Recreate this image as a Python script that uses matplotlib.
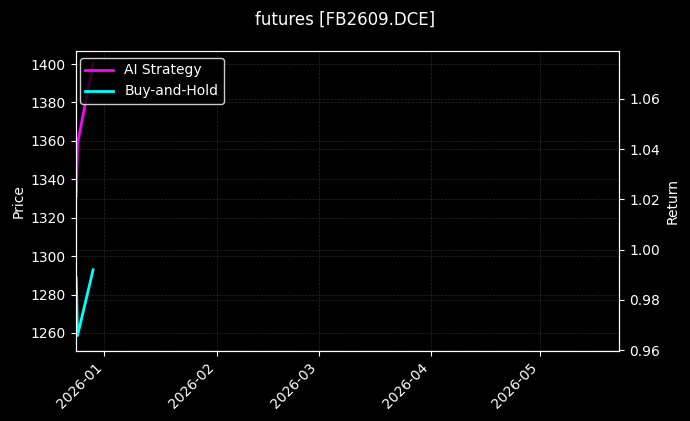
import matplotlib
matplotlib.use("Agg")
import matplotlib.pyplot as plt
import matplotlib.dates as mdates
import pandas as pd

title = "futures [FB2609.DCE]"
dates = pd.to_datetime(["2025-12-24 06:00", "2025-12-24 14:00", "2025-12-28 21:00"])
ai_strategy = [1.0213, 1.0423, 1.0740]
buy_hold = [0.9888, 0.9658, 0.9920]
x_limits = pd.to_datetime(["2025-12-24 02:00", "2026-05-22 20:00"])
price_limits = [1250.6, 1406.8]
price_ticks = [1260, 1280, 1300, 1320, 1340, 1360, 1380, 1400]
return_limits = [0.9597, 1.0791]

plt.style.use("dark_background")
fig = plt.figure(figsize=(6.9, 4.21), dpi=100, facecolor="black")
ax = fig.add_axes([0.1097, 0.1663, 0.788, 0.7126])
ax.set_facecolor("black")
ax.set_ylim(*price_limits)
ax.set_yticks(price_ticks)
ax.set_ylabel("Price", fontsize=10)
ax.grid(True, linestyle="--", linewidth=0.5, alpha=0.3, color="gray")

ax2 = ax.twinx()
ax2.plot(dates, ai_strategy, color="magenta", linewidth=2, label="AI Strategy")
ax2.plot(dates, buy_hold, color="cyan", linewidth=2, label="Buy-and-Hold")
ax2.set_ylim(*return_limits)
ax2.set_ylabel("Return", fontsize=10)
ax2.grid(True, linestyle="--", linewidth=0.5, alpha=0.3, color="gray")
ax.set_xlim(x_limits[0], x_limits[1])
ax.xaxis.set_major_locator(mdates.MonthLocator())
ax.xaxis.set_major_formatter(mdates.DateFormatter("%Y-%m"))
plt.setp(ax.get_xticklabels(), rotation=45, ha="right")

leg = ax2.legend(loc="upper left", bbox_to_anchor=(-0.005, 1.0), fontsize=10,
                 facecolor="black", edgecolor="white", framealpha=0.8)

fig.suptitle(title, fontsize=12, y=0.975)
fig.savefig("out.png", dpi=100, facecolor="black")
